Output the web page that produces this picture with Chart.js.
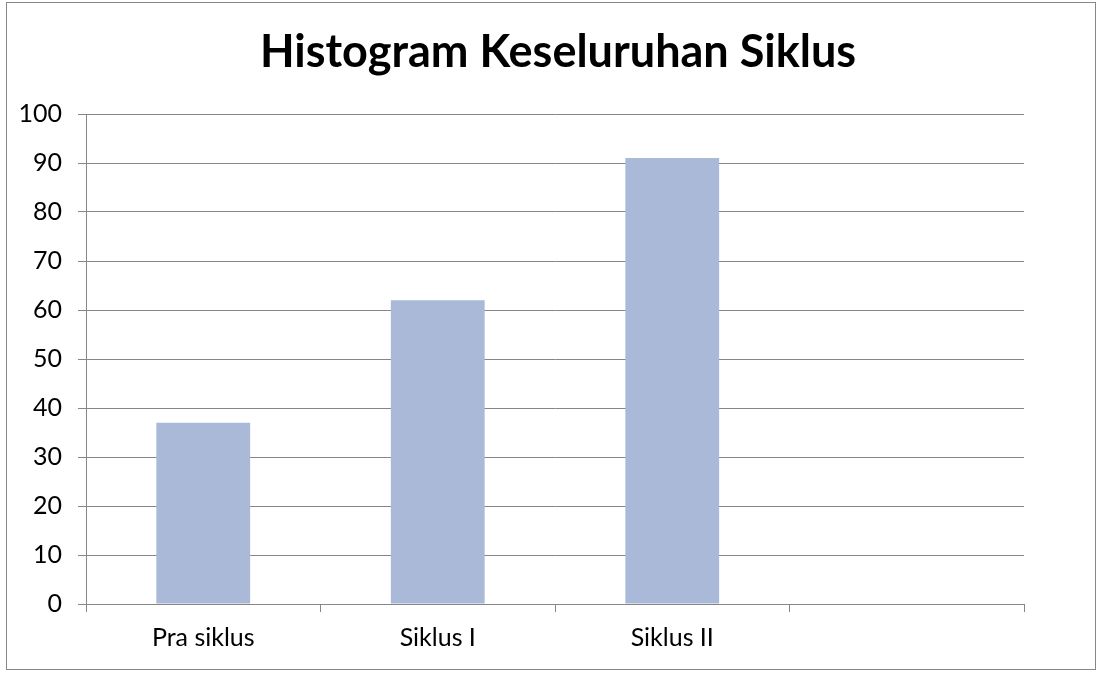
<!DOCTYPE html>
<html>
<head>
<meta charset="utf-8">
<script src="https://cdn.jsdelivr.net/npm/chart.js@4"></script>
<style>
  html, body { margin: 0; padding: 0; background: #fff; overflow: hidden; }
  #wrap { position: relative; width: 1102px; height: 673px; overflow: hidden; }
  canvas { display: block; }
</style>
</head>
<body>
<div id="wrap"><canvas id="c" width="1116" height="673"></canvas></div>
<script>
const categories = ['Pra siklus', 'Siklus I', 'Siklus II', ''];
const values = [37, 62, 91, null];
const titleText = 'Histogram Keseluruhan Siklus';

const FONT = 'Lato, "Open Sans", sans-serif';

const borderPlugin = {
  id: 'outerBorder',
  beforeDraw(chart) {
    const ctx = chart.ctx;
    ctx.save();
    ctx.fillStyle = '#fff';
    ctx.fillRect(0, 0, chart.width, chart.height);
    ctx.strokeStyle = '#878787';
    ctx.lineWidth = 1;
    ctx.strokeRect(6.5, 2.5, 1089, 667);
    ctx.restore();
  }
};

new Chart(document.getElementById('c'), {
  type: 'bar',
  data: {
    labels: categories,
    datasets: [{
      data: values,
      backgroundColor: '#A9B9D7',
      borderWidth: 0,
      barPercentage: 0.4,
      categoryPercentage: 1.0
    }]
  },
  options: {
    responsive: false,
    animation: false,
    layout: { padding: 0 },
    plugins: {
      legend: { display: false },
      tooltip: { enabled: false },
      title: {
        display: true,
        text: titleText,
        color: '#000',
        font: { family: FONT, size: 45, weight: 'bold', lineHeight: 1.2 },
        padding: { top: 25, bottom: 35 }
      }
    },
    scales: {
      x: {
        offset: true,
        grid: {
          offset: true,
          drawOnChartArea: false,
          drawTicks: true,
          tickLength: 8,
          color: '#868686',
          lineWidth: 1
        },
        border: { display: true, color: '#868686', width: 1 },
        ticks: {
          color: '#000',
          font: { family: FONT, size: 25, lineHeight: 1.2 },
          padding: 11,
          maxRotation: 0
        },
        afterFit(scale) { scale.height = 69; }
      },
      y: {
        min: 0,
        max: 100,
        ticks: {
          stepSize: 10,
          color: '#000',
          font: { family: FONT, size: 25 },
          padding: 16
        },
        grid: {
          color: '#868686',
          lineWidth: 1,
          drawTicks: true,
          tickLength: 8
        },
        border: { display: true, color: '#868686', width: 1 },
        afterFit(scale) { scale.width = 86; }
      },
      yRightSpace: {
        type: 'linear',
        position: 'right',
        display: true,
        ticks: { display: false },
        grid: { display: false, drawTicks: false },
        border: { display: false },
        afterFit(scale) { scale.width = 92; }
      }
    }
  },
  plugins: [borderPlugin]
});
</script>
</body>
</html>
